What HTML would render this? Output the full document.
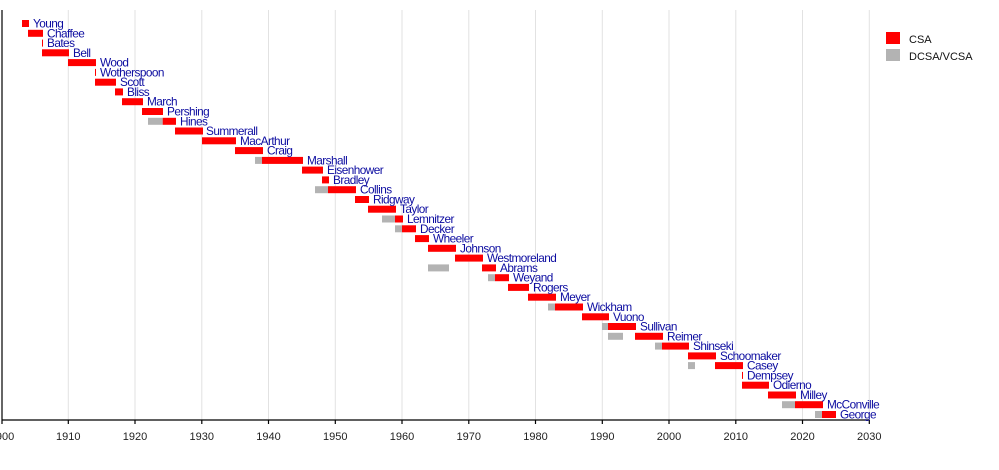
<!DOCTYPE html>
<html><head><meta charset="utf-8"><style>
html,body{margin:0;padding:0;background:#fff;}
svg{display:block;font-family:"Liberation Sans",sans-serif;}
.r{fill:#ff0000}.g{fill:#b3b3b3}
.l{fill:#0c0ca0;font-size:11.8px;letter-spacing:-0.55px}
.t{fill:#222;font-size:11px;text-anchor:middle}
</style></head><body>
<svg width="999" height="470" viewBox="0 0 999 470">
<g stroke="#e2e2e2" stroke-width="1">
<line x1="68.3" y1="10" x2="68.3" y2="420"/><line x1="135" y1="10" x2="135" y2="420"/><line x1="201.8" y1="10" x2="201.8" y2="420"/><line x1="268.5" y1="10" x2="268.5" y2="420"/><line x1="335.3" y1="10" x2="335.3" y2="420"/><line x1="402" y1="10" x2="402" y2="420"/><line x1="468.8" y1="10" x2="468.8" y2="420"/><line x1="535.5" y1="10" x2="535.5" y2="420"/><line x1="602.3" y1="10" x2="602.3" y2="420"/><line x1="669" y1="10" x2="669" y2="420"/><line x1="735.8" y1="10" x2="735.8" y2="420"/><line x1="802.5" y1="10" x2="802.5" y2="420"/><line x1="869.3" y1="10" x2="869.3" y2="420"/>
</g>
<g stroke="#000" stroke-width="1.2">
<line x1="2" y1="10" x2="2" y2="420"/><line x1="2" y1="420" x2="869.5" y2="420"/>
<line x1="2" y1="420" x2="2" y2="424"/><line x1="68.3" y1="420" x2="68.3" y2="424"/><line x1="135" y1="420" x2="135" y2="424"/><line x1="201.8" y1="420" x2="201.8" y2="424"/><line x1="268.5" y1="420" x2="268.5" y2="424"/><line x1="335.3" y1="420" x2="335.3" y2="424"/><line x1="402" y1="420" x2="402" y2="424"/><line x1="468.8" y1="420" x2="468.8" y2="424"/><line x1="535.5" y1="420" x2="535.5" y2="424"/><line x1="602.3" y1="420" x2="602.3" y2="424"/><line x1="669" y1="420" x2="669" y2="424"/><line x1="735.8" y1="420" x2="735.8" y2="424"/><line x1="802.5" y1="420" x2="802.5" y2="424"/><line x1="869.3" y1="420" x2="869.3" y2="424"/>
</g>
<g class="t">
<text x="2" y="440">1900</text><text x="68.3" y="440">1910</text><text x="135" y="440">1920</text><text x="201.8" y="440">1930</text><text x="268.5" y="440">1940</text><text x="335.3" y="440">1950</text><text x="402" y="440">1960</text><text x="468.8" y="440">1970</text><text x="535.5" y="440">1980</text><text x="602.3" y="440">1990</text><text x="669" y="440">2000</text><text x="735.8" y="440">2010</text><text x="802.5" y="440">2020</text><text x="869.3" y="440">2030</text>
</g>
<g>
<rect class="g" x="148" y="117.8" width="14.7" height="7"/>
<rect class="g" x="255" y="156.9" width="7" height="7"/>
<rect class="g" x="315" y="186.2" width="13" height="7"/>
<rect class="g" x="382" y="215.5" width="13" height="7"/>
<rect class="g" x="395" y="225.3" width="7" height="7"/>
<rect class="g" x="428" y="264.4" width="21" height="7"/>
<rect class="g" x="488" y="274.2" width="7" height="7"/>
<rect class="g" x="548" y="303.5" width="7" height="7"/>
<rect class="g" x="602" y="323" width="6" height="7"/>
<rect class="g" x="608" y="332.8" width="15" height="7"/>
<rect class="g" x="655" y="342.6" width="7" height="7"/>
<rect class="g" x="688" y="362.1" width="7" height="7"/>
<rect class="g" x="782" y="401.2" width="13" height="7"/>
<rect class="g" x="815" y="411" width="7" height="7"/>
</g>
<g class="r">
<rect x="22" y="20" width="7" height="7"/>
<rect x="28" y="29.8" width="15" height="7"/>
<rect x="42" y="39.6" width="1" height="7"/>
<rect x="42" y="49.3" width="27" height="7"/>
<rect x="68" y="59.1" width="28" height="7"/>
<rect x="95" y="68.9" width="1" height="7"/>
<rect x="95" y="78.7" width="21" height="7"/>
<rect x="115" y="88.4" width="8" height="7"/>
<rect x="122" y="98.2" width="21" height="7"/>
<rect x="142" y="108" width="21" height="7"/>
<rect x="162.7" y="117.8" width="13.3" height="7"/>
<rect x="175" y="127.5" width="28" height="7"/>
<rect x="202" y="137.3" width="34" height="7"/>
<rect x="235" y="147.1" width="28" height="7"/>
<rect x="262" y="156.9" width="41" height="7"/>
<rect x="302" y="166.6" width="21" height="7"/>
<rect x="322" y="176.4" width="7" height="7"/>
<rect x="328" y="186.2" width="28" height="7"/>
<rect x="355" y="196" width="14" height="7"/>
<rect x="368" y="205.7" width="28" height="7"/>
<rect x="395" y="215.5" width="8" height="7"/>
<rect x="402" y="225.3" width="14" height="7"/>
<rect x="415" y="235.1" width="14" height="7"/>
<rect x="428" y="244.8" width="28" height="7"/>
<rect x="455" y="254.6" width="28" height="7"/>
<rect x="482" y="264.4" width="14" height="7"/>
<rect x="495" y="274.2" width="14" height="7"/>
<rect x="508" y="283.9" width="21" height="7"/>
<rect x="528" y="293.7" width="28" height="7"/>
<rect x="555" y="303.5" width="28" height="7"/>
<rect x="582" y="313.3" width="27" height="7"/>
<rect x="608" y="323" width="28" height="7"/>
<rect x="635" y="332.8" width="28" height="7"/>
<rect x="662" y="342.6" width="27" height="7"/>
<rect x="688" y="352.4" width="28" height="7"/>
<rect x="715" y="362.1" width="28" height="7"/>
<rect x="742" y="371.9" width="1" height="7"/>
<rect x="742" y="381.7" width="27" height="7"/>
<rect x="768" y="391.5" width="28" height="7"/>
<rect x="795" y="401.2" width="28" height="7"/>
<rect x="822" y="411" width="14" height="7"/>
</g>
<g class="l">
<text x="33" y="27.5">Young</text>
<text x="47" y="37.3">Chaffee</text>
<text x="47" y="47.1">Bates</text>
<text x="73" y="56.8">Bell</text>
<text x="100" y="66.6">Wood</text>
<text x="100" y="76.4">Wotherspoon</text>
<text x="120" y="86.2">Scott</text>
<text x="127" y="95.9">Bliss</text>
<text x="147" y="105.7">March</text>
<text x="167" y="115.5">Pershing</text>
<text x="180" y="125.3">Hines</text>
<text x="206" y="135">Summerall</text>
<text x="240" y="144.8">MacArthur</text>
<text x="267" y="154.6">Craig</text>
<text x="307" y="164.4">Marshall</text>
<text x="327" y="174.1">Eisenhower</text>
<text x="333" y="183.9">Bradley</text>
<text x="360" y="193.7">Collins</text>
<text x="373" y="203.5">Ridgway</text>
<text x="400" y="213.2">Taylor</text>
<text x="407" y="223">Lemnitzer</text>
<text x="420" y="232.8">Decker</text>
<text x="433" y="242.6">Wheeler</text>
<text x="460" y="252.3">Johnson</text>
<text x="487" y="262.1">Westmoreland</text>
<text x="500" y="271.9">Abrams</text>
<text x="513" y="281.7">Weyand</text>
<text x="533" y="291.4">Rogers</text>
<text x="560" y="301.2">Meyer</text>
<text x="587" y="311">Wickham</text>
<text x="613" y="320.8">Vuono</text>
<text x="640" y="330.5">Sullivan</text>
<text x="667" y="340.3">Reimer</text>
<text x="693" y="350.1">Shinseki</text>
<text x="720" y="359.9">Schoomaker</text>
<text x="747" y="369.6">Casey</text>
<text x="747" y="379.4">Dempsey</text>
<text x="773" y="389.2">Odierno</text>
<text x="800" y="399">Milley</text>
<text x="827" y="408.7">McConville</text>
<text x="840" y="418.5">George</text>
</g>
<rect class="r" x="886" y="32" width="14" height="12"/>
<rect class="g" x="886" y="49" width="14" height="12"/>
<text x="909" y="43" style="font-size:11px;fill:#111">CSA</text>
<text x="909" y="60" style="font-size:11px;fill:#111">DCSA/VCSA</text>
</svg>
</body></html>
